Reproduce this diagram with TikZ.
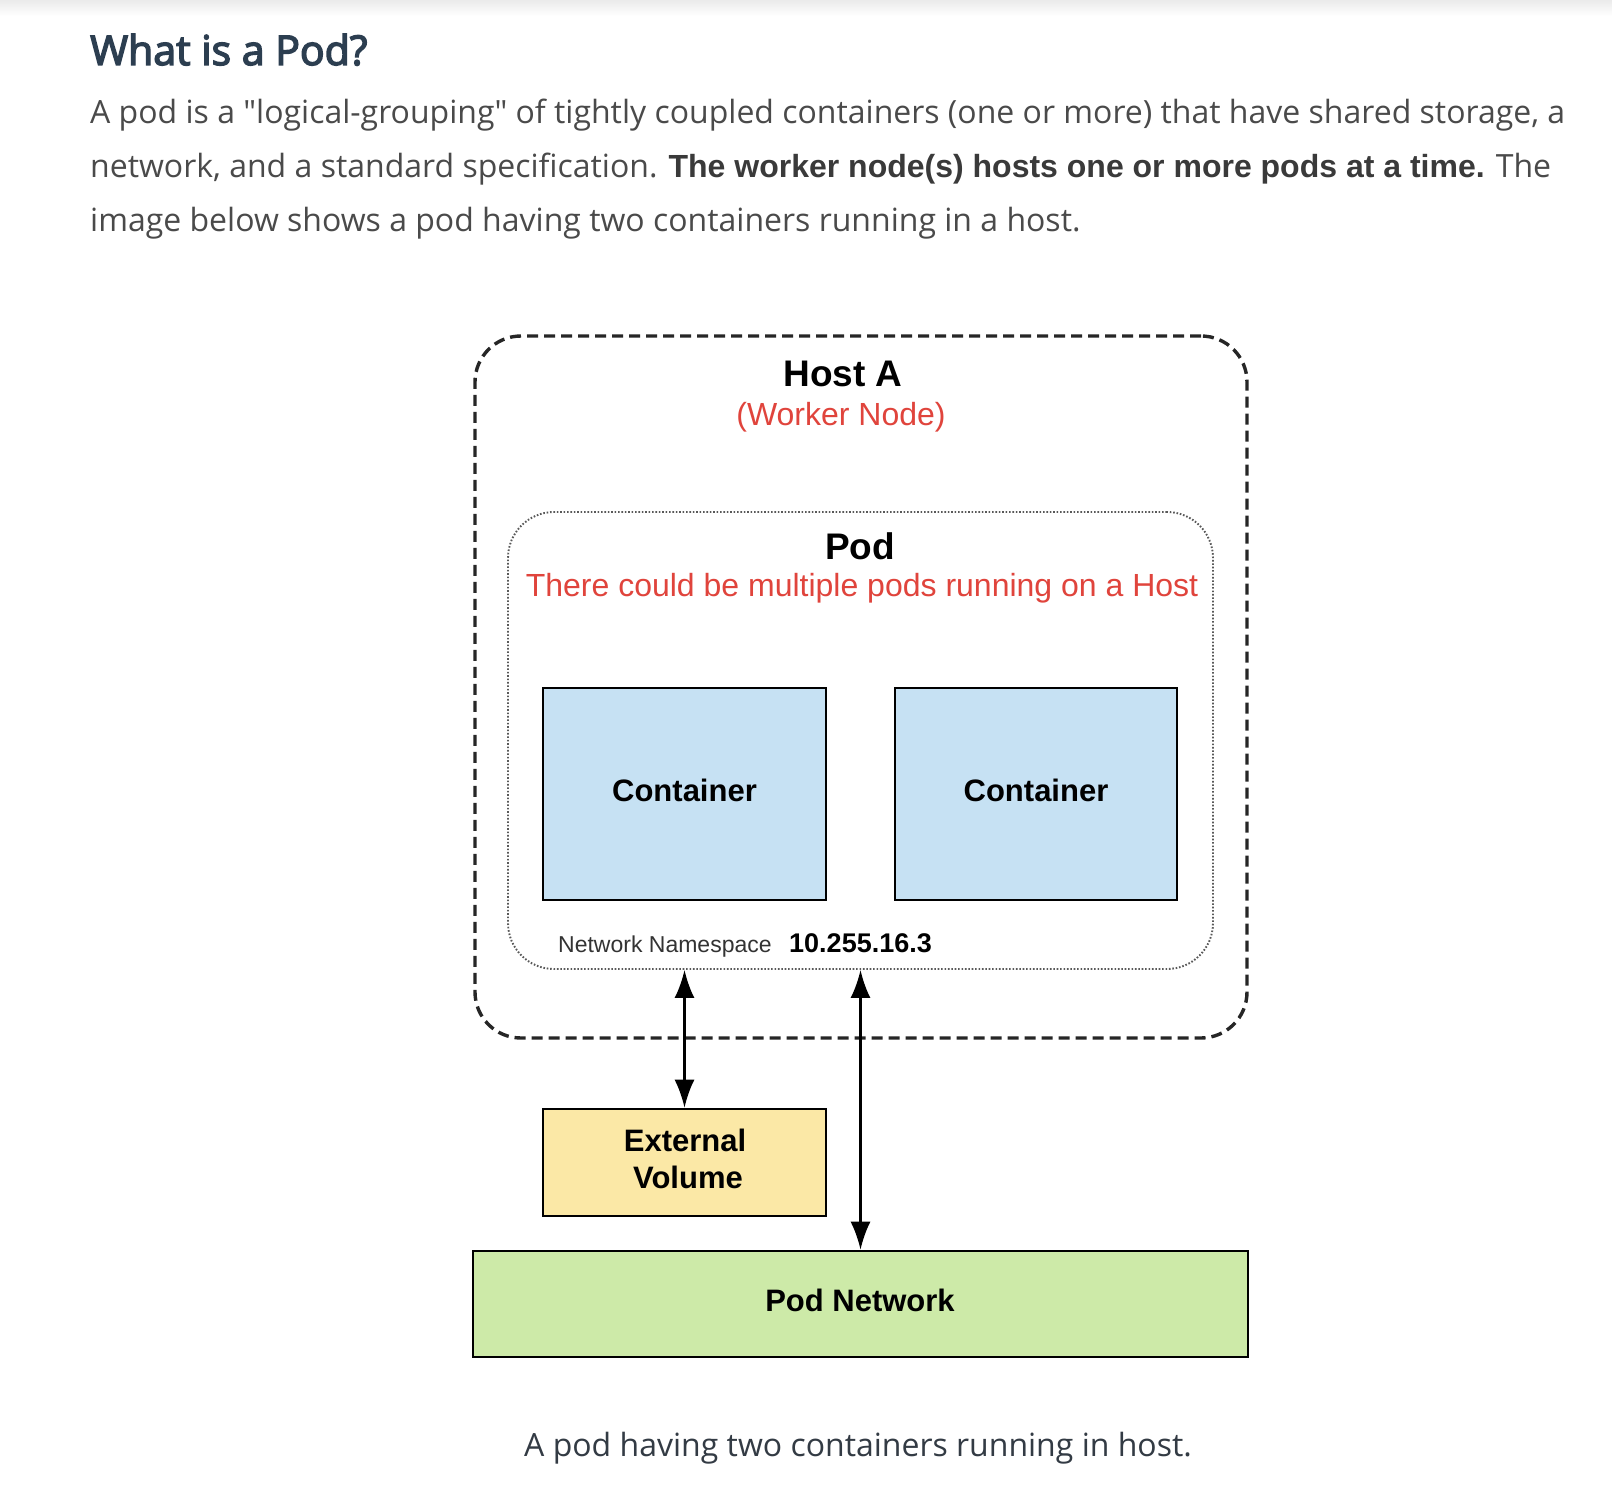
\documentclass[tikz,border=0pt]{standalone}
\usepackage{fontspec}
\setmainfont{Liberation Sans}
\newfontfamily\osans{Open Sans}
\newfontfamily\osemi{Open Sans}[FakeBold=3.5]
\usetikzlibrary{arrows.meta}
\definecolor{headc}{HTML}{2C3E50}
\definecolor{bodyc}{HTML}{4A4A4A}
\definecolor{boldc}{HTML}{3A3A3A}
\definecolor{redc}{HTML}{E0443C}
\definecolor{bluef}{HTML}{C6E1F3}
\definecolor{yelf}{HTML}{FBE8A6}
\definecolor{grnf}{HTML}{CDEAA8}
\definecolor{capc}{HTML}{333B44}
\newcommand{\fsz}[1]{\fontsize{#1}{#1}\selectfont}
\begin{document}
\begin{tikzpicture}[x=1pt,y=-1pt,
  box/.style={draw=black, line width=2.6pt, inner sep=0pt, font=\bfseries\fsz{31}},
  hostbox/.style={draw=black!85, line width=3.4pt, dash pattern=on 11pt off 6pt, rounded corners=46pt, inner sep=0pt},
  podbox/.style={draw=black!65, line width=1.9pt, dash pattern=on 1.6pt off 1.8pt, rounded corners=46pt, inner sep=0pt},
  arr/.style={line width=2.4pt, {Latex[length=28pt,width=20pt]}-{Latex[length=28pt,width=20pt]}},
  para/.style={anchor=base west, inner sep=0pt, text=bodyc, font=\osans\fsz{32}},
  lbl/.style={anchor=base, inner sep=0pt}]
\useasboundingbox (0,0) rectangle (1612,1506);
\fill[white] (0,0) rectangle (1612,1506);
\shade[top color=black!8, bottom color=white] (0,0) rectangle (1612,16);

% header text
\node[anchor=base west, inner sep=0pt, text=headc, font=\osemi\fsz{41}] (title) at (90,65) {What is a Pod?};
\node[para] (l1) at (90,124) {A pod is a "logical-grouping" of tightly coupled containers (one or more) that have shared storage, a};
\node[para] (l2) at (90,178) {network, and a standard specification. {\rmfamily\bfseries\color{boldc}The worker node(s) hosts one or more pods at a time.} The};
\node[para] (l3) at (90,232) {image below shows a pod having two containers running in a host.};

% host and pod
\node[hostbox, minimum width=772pt, minimum height=702pt] (host) at (861,687) {};
\node[podbox, minimum width=705pt, minimum height=457pt] (pod) at (860.5,740.5) {};

\node[lbl, font=\bfseries\fsz{37}] (hosta) at (843,386) {Host A};
\node[lbl, text=redc, font=\fsz{32}] (worker) at (841,425) {(Worker Node)};
\node[lbl, font=\bfseries\fsz{37}] (podt) at (860,559) {Pod};
\node[lbl, text=redc, font=\fsz{32}] (multi) at (862,596) {There could be multiple pods running on a Host};

% containers
\node[box, fill=bluef, minimum width=283pt, minimum height=212pt] (c1) at (684.5,794) {};
\node[box, fill=bluef, minimum width=282pt, minimum height=212pt] (c2) at (1036,794) {};
\node[lbl, font=\bfseries\fsz{31}] (c1t) at (684.5,801) {Container};
\node[lbl, font=\bfseries\fsz{31}] (c2t) at (1036,801) {Container};

\node[anchor=base west, inner sep=0pt, text=black!80, font=\fsz{23}] (ns) at (558,952) {Network Namespace};
\node[anchor=base west, inner sep=0pt, font=\bfseries\fsz{27}] (ip) at (789,952) {10.255.16.3};

% external volume and pod network
\node[box, fill=yelf, minimum width=283pt, minimum height=107pt] (ev) at (684.5,1162.5) {};
\node[lbl, font=\bfseries\fsz{31}] (evt1) at (685,1151) {External};
\node[lbl, font=\bfseries\fsz{31}] (evt2) at (688,1188) {Volume};
\node[box, fill=grnf, minimum width=775pt, minimum height=106pt] (pn) at (860.5,1304) {};
\node[lbl, font=\bfseries\fsz{31}] (pnt) at (860,1311) {Pod Network};

% connectors
\draw[arr] (ev.north |- pod.south) -- (ev.north);
\draw[arr] (pn.north |- pod.south) -- (pn.north);

% caption
\node[lbl, text=capc, font=\osans\fsz{32}] (cap) at (858,1456) {A pod having two containers running in host.};
\end{tikzpicture}
\end{document}
